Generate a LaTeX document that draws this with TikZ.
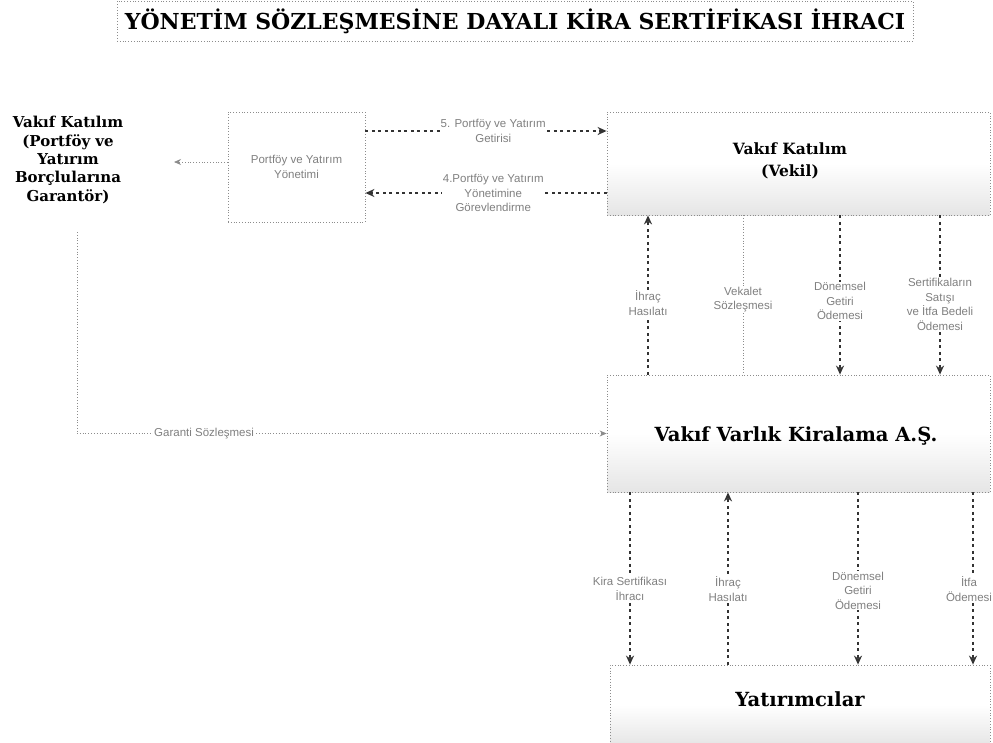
\documentclass[tikz,border=0pt]{standalone}
\usepackage{fontspec}
\setmainfont{DejaVu Serif}
\newfontfamily\labfont{Liberation Sans}
\usetikzlibrary{arrows.meta}
\begin{document}
\begin{tikzpicture}[x=1pt,y=-1pt,
  dbox/.style={draw=black!45, dotted, line width=0.8pt, inner sep=0pt},
  shbox/.style={dbox, top color=white, bottom color=black!10, middle color=white},
  lab/.style={fill=white, inner sep=1pt, text=black!50, font=\labfont\fontsize{11.5}{14.5}\selectfont, align=center},
  flow/.style={draw=black!80, line width=1.4pt, dash pattern=on 3pt off 3.5pt, -{Stealth[length=9pt,width=8pt]}},
  thinline/.style={draw=black!45, line width=0.8pt, dotted}
]
\useasboundingbox[fill=white] (0,0) rectangle (993,742);
% title
\node[dbox, minimum width=796pt, minimum height=40pt, font=\bfseries\fontsize{22}{26}\selectfont] (title) at (515,21) {YÖNETİM SÖZLEŞMESİNE DAYALI KİRA SERTİFİKASI İHRACI};
% left guarantor
\node[font=\bfseries\fontsize{15}{18.3}\selectfont, align=center] (guar) at (68,160) {Vakıf Katılım\\(Portföy ve\\Yatırım\\Borçlularına\\Garantör)};
\coordinate (gtip) at (174,162);
\coordinate (gbot) at (77,232);
% middle box
\node[dbox, minimum width=137pt, minimum height=110pt, text=black!50, font=\labfont\fontsize{11.5}{14.5}\selectfont, align=center] (mid) at (296.5,167) {Portföy ve Yatırım\\Yönetimi};
% vekil
\node[shbox, minimum width=383pt, minimum height=103pt] (vekil) at (798.5,163.5) {};
\node[font=\bfseries\fontsize{15.5}{22}\selectfont, align=center] (vekiltxt) at (790,161) {Vakıf Katılım\\(Vekil)};
% kiralama
\node[shbox, minimum width=383pt, minimum height=117pt] (kira) at (798.5,433.5) {};
\node[font=\bfseries\fontsize{19.5}{23}\selectfont] (kiratxt) at (796,436) {Vakıf Varlık Kiralama A.Ş.};
% yatirimcilar
\node[shbox, minimum width=380pt, minimum height=80pt] (yat) at (800,705) {};
\node[font=\bfseries\fontsize{19.5}{23}\selectfont] (yattxt) at (800,699) {Yatırımcılar};
% horizontal arrows
\draw[flow] (mid.east |- 0,131) -- node[lab, pos=0.53] {5. Portföy ve Yatırım\\Getirisi} (vekil.west |- 0,131);
\draw[flow] (vekil.west |- 0,193) -- node[lab, pos=0.47] {4.Portföy ve Yatırım\\Yönetimine\\Görevlendirme} (mid.east |- 0,193);
\draw[thinline, -{Stealth[length=7pt,width=6pt]}] (mid.west |- 0,162) -- (gtip);
% guarantee connector
\draw[thinline, -{Stealth[length=7pt,width=6pt]}] (gbot) |- node[lab, pos=0.62] {Garanti Sözleşmesi} (kira.west);
% vekil <-> kira
\draw[flow] (648,0 |- kira.north) -- node[lab, pos=0.45] {İhraç\\Hasılatı} (648,0 |- vekil.south);
\draw[thinline] (743,0 |- vekil.south) -- node[lab, pos=0.53] {Vekalet\\Sözleşmesi} (743,0 |- kira.north);
\draw[flow] (840,0 |- vekil.south) -- node[lab, pos=0.54] {Dönemsel\\Getiri\\Ödemesi} (840,0 |- kira.north);
\draw[flow] (940,0 |- vekil.south) -- node[lab, pos=0.56] {Sertifikaların\\Satışı\\ve İtfa Bedeli\\Ödemesi} (940,0 |- kira.north);
% kira <-> yatirimcilar
\draw[flow] (630,0 |- kira.south) -- node[lab, pos=0.56] {Kira Sertifikası\\İhracı} (630,0 |- yat.north);
\draw[flow] (728,0 |- yat.north) -- node[lab, pos=0.44] {İhraç\\Hasılatı} (728,0 |- kira.south);
\draw[flow] (858,0 |- kira.south) -- node[lab, pos=0.57] {Dönemsel\\Getiri\\Ödemesi} (858,0 |- yat.north);
\draw[flow] (973,0 |- kira.south) -- node[lab, pos=0.56, xshift=-4pt] {İtfa\\Ödemesi} (973,0 |- yat.north);
\end{tikzpicture}
\end{document}
